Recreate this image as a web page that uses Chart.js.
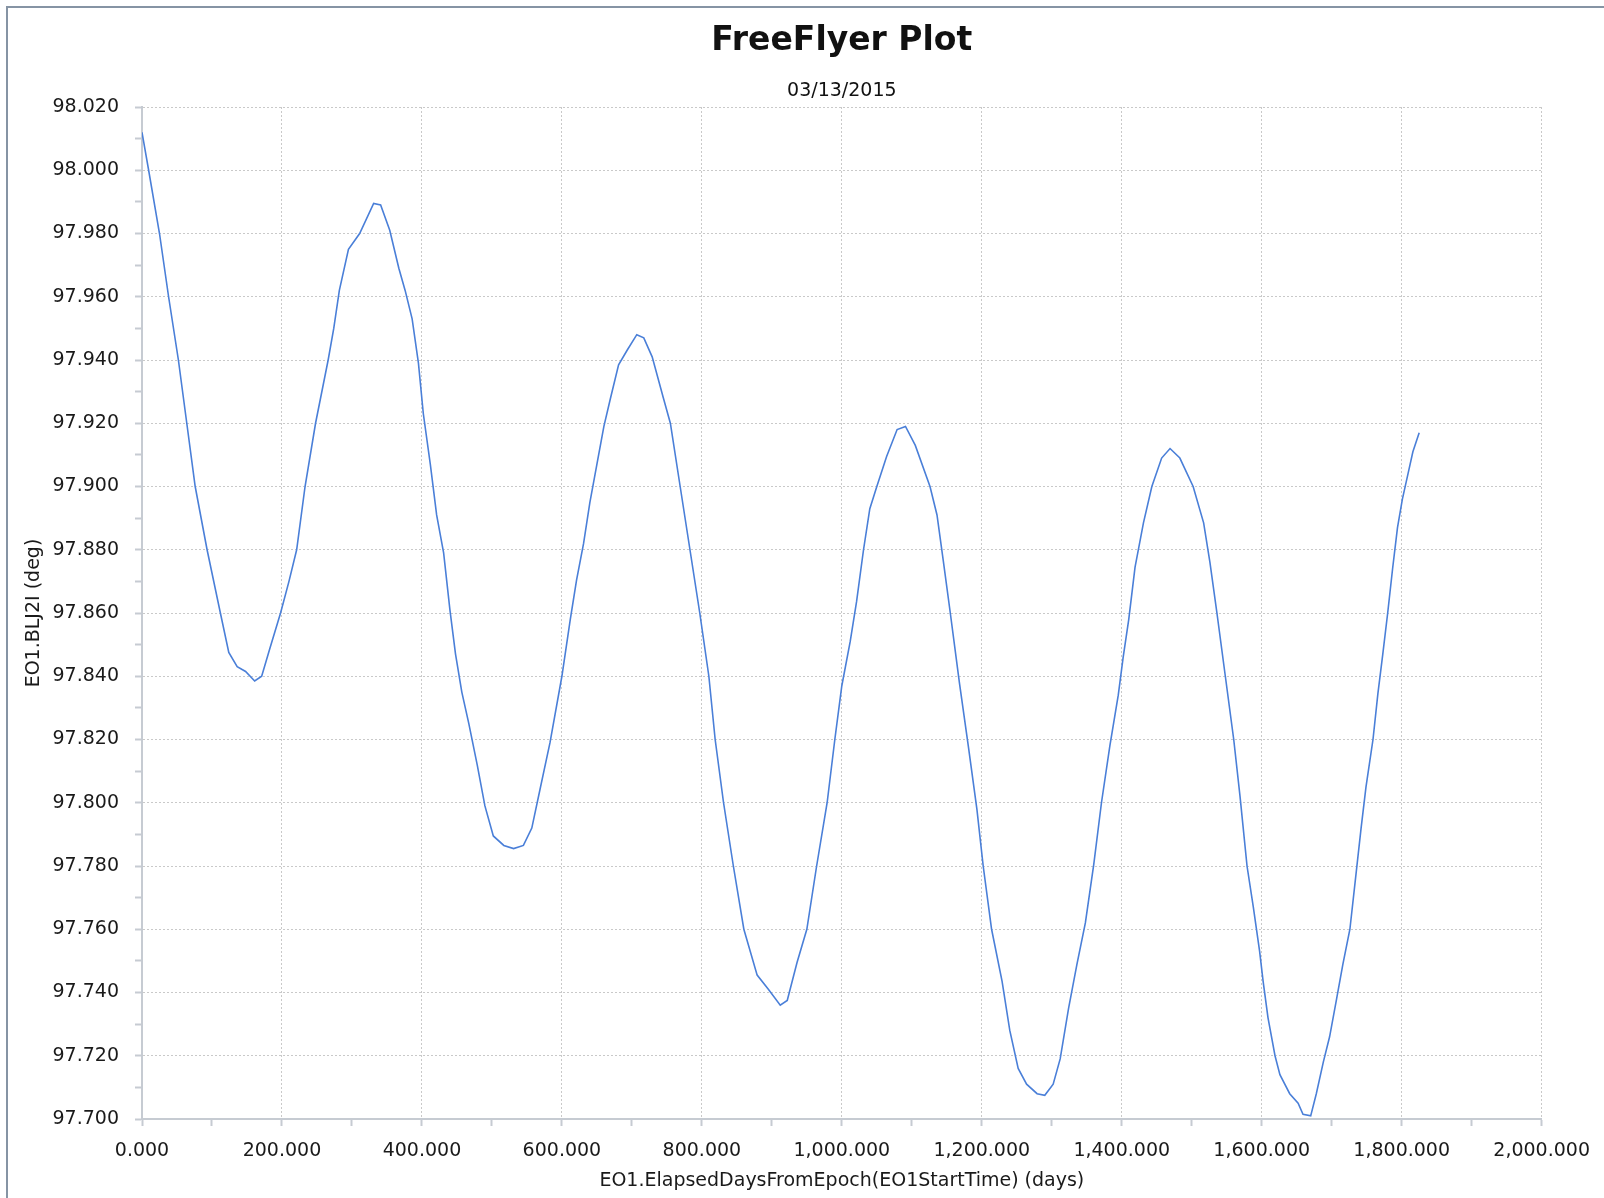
<!DOCTYPE html>
<html>
<head>
<meta charset="utf-8">
<title>FreeFlyer Plot</title>
<script src="https://cdn.jsdelivr.net/npm/chart.js@4.4.1/dist/chart.umd.min.js"></script>
<style>
  html, body { margin: 0; padding: 0; background: #fff; }
  #wrap { width: 1604px; height: 1198px; }
</style>
</head>
<body>
<div id="wrap"><canvas id="plot" width="1604" height="1198"></canvas></div>
<script>
const plotTitle = 'FreeFlyer Plot';
const plotDate = '03/13/2015';
const xLabel = 'EO1.ElapsedDaysFromEpoch(EO1StartTime) (days)';
const yLabel = 'EO1.BLJ2I (deg)';

// elapsed days from epoch
const days = [
  0, 9.5, 25, 38, 52, 64, 76, 93, 112, 124, 136, 148, 161, 171, 183, 198, 210, 221, 233, 248,
  266, 274, 282, 295, 311, 331, 341, 354, 367, 376, 386, 395, 402, 412, 421, 431, 440, 448, 457, 467,
  479, 490, 502, 517, 531, 545, 557, 569, 583, 600, 612, 621, 631, 640, 650, 660, 669, 681, 693, 707,
  717, 729, 745, 755, 769, 783, 797, 810, 819, 831, 845, 860, 879, 895, 912, 922, 936, 950, 964, 979,
  990, 1000, 1012, 1021, 1031, 1040, 1050, 1064, 1079, 1091, 1105, 1126, 1136, 1145, 1155, 1168, 1181, 1193, 1202, 1214,
  1229, 1240, 1252, 1264, 1279, 1290, 1302, 1312, 1324, 1336, 1348, 1360, 1371, 1383, 1395, 1402, 1410, 1419, 1431, 1443,
  1457, 1469, 1483, 1502, 1517, 1526, 1536, 1548, 1560, 1569, 1579, 1588, 1597, 1602, 1609, 1619, 1626, 1640, 1652, 1659,
  1670, 1678, 1688, 1697, 1707, 1716, 1726, 1735, 1742, 1749, 1759, 1766, 1773, 1780, 1787, 1794, 1801, 1809, 1816, 1825
];

// inclination, deg
const inclination = [
  98.012, 98.000, 97.980, 97.960, 97.940, 97.920, 97.900, 97.880, 97.860, 97.8475, 97.843, 97.8415, 97.8385, 97.840, 97.849, 97.860, 97.870, 97.880, 97.900, 97.920,
  97.940, 97.950, 97.962, 97.975, 97.980, 97.9895, 97.989, 97.981, 97.969, 97.962, 97.953, 97.939, 97.923, 97.907, 97.891, 97.879, 97.861, 97.847, 97.835, 97.825,
  97.812, 97.799, 97.7895, 97.7865, 97.7855, 97.7865, 97.792, 97.8045, 97.819, 97.840, 97.858, 97.8705, 97.882, 97.895, 97.907, 97.919, 97.9275, 97.9385, 97.943, 97.948,
  97.947, 97.941, 97.928, 97.920, 97.900, 97.880, 97.860, 97.840, 97.820, 97.800, 97.780, 97.760, 97.7455, 97.741, 97.736, 97.7375, 97.7495, 97.760, 97.780, 97.800,
  97.820, 97.837, 97.851, 97.8635, 97.880, 97.893, 97.900, 97.9095, 97.918, 97.919, 97.913, 97.900, 97.891, 97.8765, 97.860, 97.838, 97.8175, 97.798, 97.780, 97.760,
  97.7435, 97.728, 97.716, 97.711, 97.708, 97.7075, 97.711, 97.719, 97.735, 97.749, 97.762, 97.7805, 97.800, 97.818, 97.834, 97.846, 97.858, 97.8745, 97.8885, 97.900,
  97.909, 97.912, 97.909, 97.900, 97.8885, 97.876, 97.860, 97.840, 97.820, 97.802, 97.780, 97.767, 97.753, 97.7435, 97.732, 97.720, 97.714, 97.708, 97.705, 97.7015,
  97.701, 97.708, 97.718, 97.726, 97.738, 97.749, 97.760, 97.778, 97.792, 97.805, 97.820, 97.8345, 97.847, 97.860, 97.874, 97.887, 97.896, 97.904, 97.911, 97.917
];

const FONT = 'DejaVu Sans';
const gridColor = '#c9c9c9';
const axisColor = '#c6cbd2';

const isMajorX = (v) => Math.round(v) % 200 === 0;
const isMajorY = (v) => Math.round(v * 1000) % 20 === 0;

// grey frame round the picture
const frame = {
  id: 'frame',
  beforeDraw(chart) {
    const ctx = chart.ctx;
    ctx.save();
    ctx.fillStyle = '#fff';
    ctx.fillRect(0, 0, chart.width, chart.height);
    ctx.strokeStyle = '#8694a4';
    ctx.lineWidth = 2;
    ctx.beginPath();
    ctx.moveTo(7, chart.height);
    ctx.lineTo(7, 7);
    ctx.lineTo(chart.width, 7);
    ctx.stroke();
    ctx.restore();
  }
};

new Chart(document.getElementById('plot'), {
  type: 'line',
  data: {
    datasets: [{
      data: days.map((d, i) => ({ x: d, y: inclination[i] })),
      borderColor: '#4a7fd8',
      borderWidth: 1.6,
      pointRadius: 0,
      tension: 0,
      fill: false
    }]
  },
  options: {
    responsive: false,
    animation: false,
    devicePixelRatio: 1,
    layout: { padding: { top: 10, right: 62, bottom: 0, left: 0 } },
    plugins: {
      legend: { display: false },
      tooltip: { enabled: false },
      title: {
        display: true,
        text: plotTitle,
        fullSize: false,
        color: '#111',
        font: { family: FONT, size: 33, weight: 'bold' },
        padding: { top: 11.2, bottom: 8 }
      },
      subtitle: {
        display: true,
        text: plotDate,
        fullSize: false,
        color: '#111',
        font: { family: FONT, size: 19 },
        padding: { top: 10.8, bottom: 4.6 }
      }
    },
    scales: {
      x: {
        type: 'linear',
        min: 0,
        max: 2000,
        afterFit: (scale) => { scale.height = 79; },
        ticks: {
          stepSize: 100,
          autoSkip: false,
          maxRotation: 0,
          padding: 14,
          color: '#1a1a1a',
          font: { family: FONT, size: 19 },
          callback: (v) => isMajorX(v)
            ? v.toLocaleString('en-US', { minimumFractionDigits: 3, maximumFractionDigits: 3 })
            : ''
        },
        grid: {
          color: (c) => isMajorX(c.tick.value) ? gridColor : 'rgba(0,0,0,0)',
          lineWidth: 1,
          tickLength: 7,
          tickColor: axisColor,
          tickWidth: 2,
          tickBorderDash: []
        },
        border: { display: true, color: axisColor, width: 2, dash: [2, 2] },
        title: {
          display: true,
          text: xLabel,
          color: '#1a1a1a',
          font: { family: FONT, size: 19 },
          padding: { top: 0, bottom: 5.6 }
        }
      },
      y: {
        type: 'linear',
        min: 97.7,
        max: 98.02,
        afterFit: (scale) => { scale.width = 142; },
        ticks: {
          stepSize: 0.01,
          autoSkip: false,
          padding: 16,
          color: '#1a1a1a',
          font: { family: FONT, size: 19 },
          callback: (v) => isMajorY(v) ? v.toFixed(3) : ''
        },
        grid: {
          color: (c) => isMajorY(c.tick.value) ? gridColor : 'rgba(0,0,0,0)',
          lineWidth: 1,
          tickLength: 7,
          tickColor: axisColor,
          tickWidth: 2,
          tickBorderDash: []
        },
        border: { display: true, color: axisColor, width: 2, dash: [2, 2] },
        title: {
          display: true,
          text: yLabel,
          color: '#1a1a1a',
          font: { family: FONT, size: 19 },
          padding: { top: 23, bottom: 0 }
        }
      }
    }
  },
  plugins: [frame]
});
</script>
</body>
</html>
